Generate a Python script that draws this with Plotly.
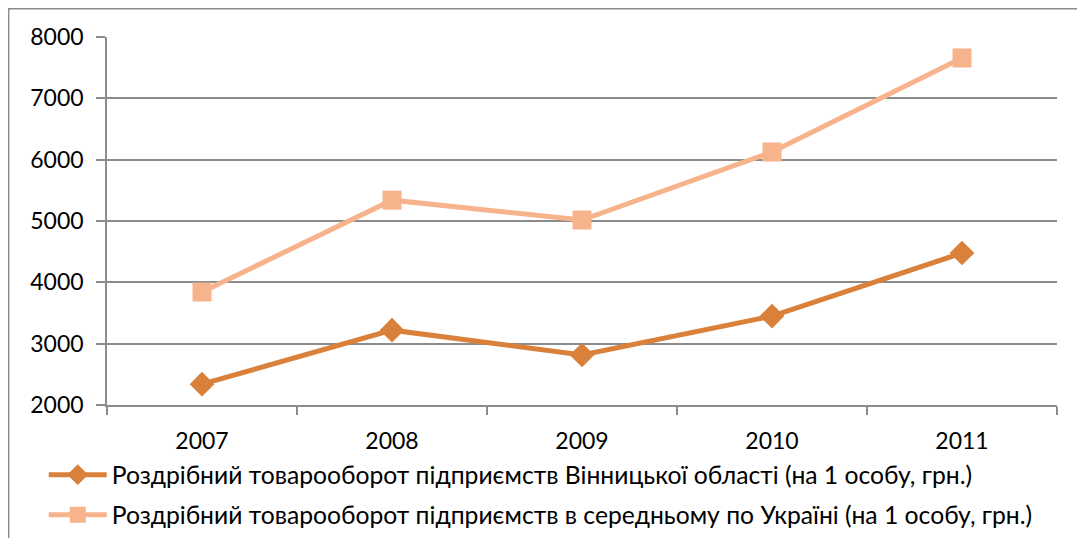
import plotly.graph_objects as go

years = ["2007", "2008", "2009", "2010", "2011"]
vinnytsia = [2340, 3220, 2815, 3450, 4478]
ukraine = [3842, 5340, 5016, 6125, 7658]

name_vin = "Роздрібний товарооборот підприємств Вінницької області (на 1 особу, грн.)"
name_ukr = "Роздрібний товарооборот підприємств в середньому по Україні (на 1 особу, грн.)"

dark = "#D9803A"
light = "#F7B38C"
grid = "#8C8C8C"
tick_font = dict(family="Lato", size=23, color="#000000")
legend_font = dict(family="Lato", size=24.7, color="#000000")

fig = go.Figure()

fig.add_trace(go.Scatter(
    x=years, y=vinnytsia, name=name_vin, mode="lines+markers",
    line=dict(color=dark, width=5),
    marker=dict(symbol="diamond", size=19, color=dark),
    legendgroup="a",
))
fig.add_trace(go.Scatter(
    x=years, y=ukraine, name=name_ukr, mode="lines+markers",
    line=dict(color=light, width=5),
    marker=dict(symbol="square", size=19, color=light),
    legendgroup="b",
))

# chart frame (only top and left edges are visible, the rest is cropped)
fig.add_shape(type="rect", xref="paper", yref="paper",
              x0=-0.1035, x1=1.1, y0=-0.6, y1=1.0770,
              line=dict(color=grid, width=1.5), layer="below")

fig.update_layout(
    width=1069, height=530,
    margin=dict(l=99, r=20, t=29, b=133, autoexpand=False),
    paper_bgcolor="white", plot_bgcolor="white",
    font=tick_font,
    showlegend=True,
    legend=dict(x=-0.0666, y=-0.128, xanchor="left", yanchor="top",
                font=legend_font, tracegroupgap=5, itemwidth=58,
                bgcolor="rgba(0,0,0,0)"),
    xaxis=dict(
        type="category", range=[-0.5, 4.5], automargin=False,
        tickson="boundaries", ticks="outside", ticklen=8, tickcolor=grid, tickwidth=1.5,
        showline=True, linecolor=grid, linewidth=1.5, showgrid=False,
        ticklabelstandoff=15, tickfont=tick_font,
    ),
    yaxis=dict(
        range=[2000, 8000], dtick=1000, automargin=False,
        ticks="outside", ticklen=9, tickcolor=grid, tickwidth=1.5,
        showline=True, linecolor=grid, linewidth=1.5,
        showgrid=True, gridcolor=grid, gridwidth=1.5, zeroline=False,
        ticklabelstandoff=8, tickfont=tick_font,
    ),
)

fig.write_html("out.html")
